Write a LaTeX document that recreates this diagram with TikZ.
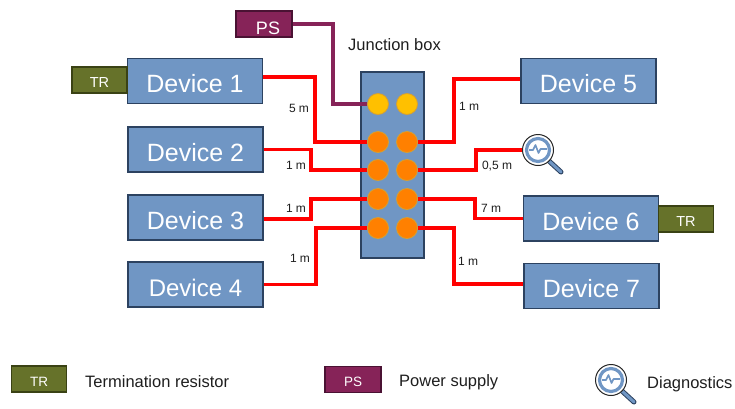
\documentclass[tikz,border=0pt]{standalone}
\usepackage{fontspec}
\setmainfont{Liberation Sans}
\usetikzlibrary{positioning,calc}
\definecolor{DevBlue}{RGB}{112,150,196}
\definecolor{DevBorder}{RGB}{44,66,96}
\definecolor{TrGreen}{RGB}{102,114,42}
\definecolor{TrBorder}{RGB}{58,66,20}
\definecolor{PsPurple}{RGB}{134,35,88}
\definecolor{PsBorder}{RGB}{74,18,51}
\definecolor{PinOrange}{RGB}{255,128,0}
\definecolor{PinYellow}{RGB}{255,192,0}
\definecolor{PinBorder}{RGB}{214,160,50}
\definecolor{TextDark}{RGB}{30,30,30}

% magnifier: name, x, y
\newcommand{\lensIcon}[3]{
  \draw[line width=5pt,line cap=round,color=DevBorder] ($(#2,#3)+(11,11)$) -- ($(#2,#3)+(23,22)$);
  \draw[line width=3pt,line cap=round,color=DevBlue] ($(#2,#3)+(11,11)$) -- ($(#2,#3)+(23,22)$);
  \node(#1)[lensNode] at (#2,#3) {};
  \draw[line width=1.6pt,color=DevBlue,line join=round] ($(#2,#3)+(-9,0)$) -- ++(4,0) -- ++(2.5,-5) -- ++(3,8) -- ++(2,-4) -- ++(6.5,0);
}

\begin{document}
\begin{tikzpicture}[
      x=1pt,y=-1pt,
      devNode/.style={draw=DevBorder,fill=DevBlue,line width=1.2pt,minimum width=135pt,minimum height=45pt,
                      inner sep=0pt,font=\fontsize{25}{30}\selectfont,text=white,text height=23pt,text depth=0pt},
      jBox/.style={draw=DevBorder,fill=DevBlue,line width=1.2pt,minimum width=63pt,minimum height=186pt,inner sep=0pt},
      trNode/.style={draw=TrBorder,fill=TrGreen,line width=1.2pt,minimum width=55pt,minimum height=26pt,
                     inner sep=0pt,font=\fontsize{14.5}{16}\selectfont,text=white,text height=14pt,text depth=0pt},
      psNode/.style={draw=PsBorder,fill=PsPurple,line width=1.2pt,minimum width=56pt,minimum height=26pt,
                     inner sep=0pt,font=\fontsize{14}{16}\selectfont,text=white,text height=14pt,text depth=0pt},
      pinA/.style={circle,draw=PinBorder,fill=PinOrange,line width=0.8pt,minimum size=21pt,inner sep=0pt},
      pinB/.style={circle,draw=PinBorder,fill=PinYellow,line width=0.8pt,minimum size=21pt,inner sep=0pt},
      lensNode/.style={circle,draw=black!85,fill=white,line width=1pt,minimum size=31pt,inner sep=0pt,
                       path picture={\draw[color=DevBlue,line width=3.2pt] (path picture bounding box.center) circle (11.5pt);}},
      cable/.style={line width=3.5pt,color=red},
      psCable/.style={line width=3.5pt,color=PsPurple},
      lenLbl/.style={font=\fontsize{12}{14}\selectfont,text=TextDark,inner sep=0pt},
      capLbl/.style={font=\fontsize{16.5}{20}\selectfont,text=TextDark,inner sep=0pt}
    ]
    \useasboundingbox (0,0) rectangle (735,408);

    % Left devices
    \node(d1)[devNode] at (195,81) {Device 1};
    \node(d2)[devNode] at (195.5,149.5) {Device 2};
    \node(d3)[devNode] at (195.5,217.5) {Device 3};
    \node(d4)[devNode] at (195.5,284.5) {\fontsize{24}{30}\selectfont Device 4};

    % Right devices
    \node(d5)[devNode] at (588.5,81) {Device 5};
    \node(d6)[devNode] at (591,218.5) {Device 6};
    \node(d7)[devNode] at (591.5,286) {Device 7};

    % Resistors and power supply
    \node(tr1)[trNode] at (99.5,80) {TR};
    \node(tr2)[trNode] at (686,219) {TR};
    \node(ps)[psNode] at (264,24) {\raisebox{-3pt}{\hspace{8pt}\fontsize{18}{20}\selectfont PS}};

    % Junction box
    \node(jb)[jBox] at (392.5,165) {};
    \node(jbLbl)[capLbl] at (394.5,44.5) {Junction box};

    \node(p1)[pinB] at (378,104) {};
    \node(q1)[pinB] at (407,104) {};
    \node(p2)[pinA] at (378,142) {};
    \node(q2)[pinA] at (407,142) {};
    \node(p3)[pinA] at (378,170) {};
    \node(q3)[pinA] at (407,170) {};
    \node(p4)[pinA] at (378,199) {};
    \node(q4)[pinA] at (407,199) {};
    \node(p5)[pinA] at (378,228) {};
    \node(q5)[pinA] at (407,228) {};

    % Diagnostics tool
    \lensIcon{mag}{538}{150}

    % Power cable
    \draw[psCable] (ps.east) -| (333,104) -- (p1.west);

    % Left cables
    \draw[cable] ([yshift=4pt]d1.east) -- ++(52,0) |- (p2.west);
    \draw[cable] (d2.east) -- (311,149.5) |- (p3.west);
    \draw[cable] ([yshift=-1.5pt]d3.east) -- (311,219) |- (p4.west);
    \draw[cable] (d4.east) -- (316,284.5) |- (p5.west);

    % Right cables
    \draw[cable] (q2.east) -- (454,142) |- ([yshift=2pt]d5.west);
    \draw[cable] (q3.east) -- (476,170) |- (mag.west);
    \draw[cable] (q4.east) -- (475,199) |- (d6.west);
    \draw[cable] (q5.east) -- (454,228) |- ([yshift=2pt]d7.west);

    % Cable lengths
    \node(l1)[lenLbl] at (299,108) {5 m};
    \node(l2)[lenLbl] at (296,165) {1 m};
    \node(l3)[lenLbl] at (296,208) {1 m};
    \node(l4)[lenLbl] at (300,258) {1 m};
    \node(l5)[lenLbl] at (469,106) {1 m};
    \node(l6)[lenLbl] at (497,166) {0,5 m};
    \node(l7)[lenLbl] at (491,208) {7 m};
    \node(l8)[lenLbl] at (468,261) {1 m};

    % Legend
    \node(legTr)[trNode,font=\fontsize{13.5}{16}\selectfont] at (39,379) {TR};
    \node(legTrLbl)[capLbl,anchor=base west] at (85,387) {Termination resistor};
    \node(legPs)[psNode,font=\fontsize{13.5}{16}\selectfont] at (353,379.5) {PS};
    \node(legPsLbl)[capLbl,anchor=base west] at (399,386) {Power supply};
    \lensIcon{legMag}{611}{380}
    \node(legMagLbl)[capLbl,anchor=base west] at (647,388) {Diagnostics};
  \end{tikzpicture}
\end{document}
